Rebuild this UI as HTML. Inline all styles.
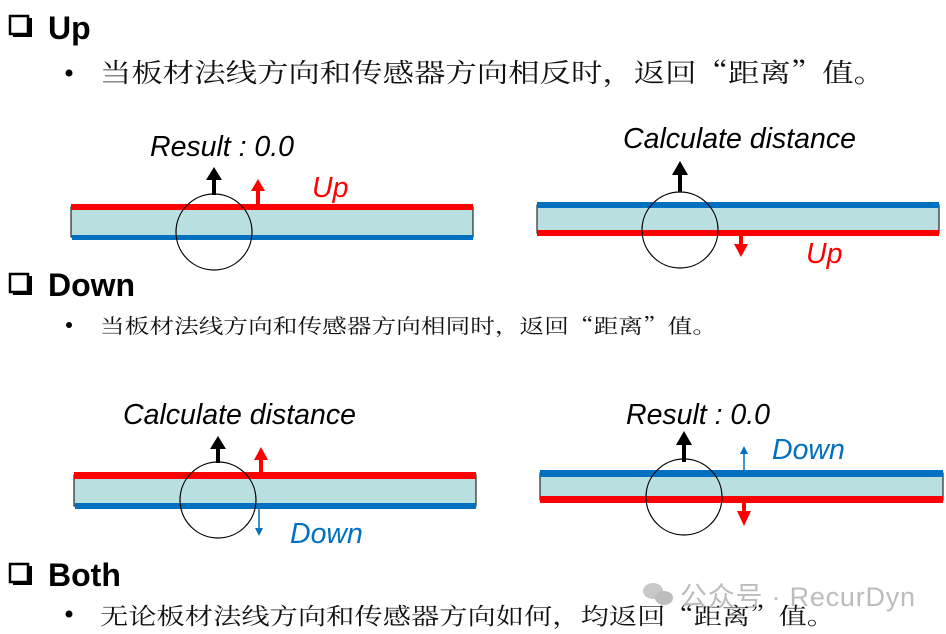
<!DOCTYPE html>
<html><head><meta charset="utf-8"><style>
html,body{margin:0;padding:0;background:#fff;}
svg{display:block}
.h{font-family:"Liberation Sans",sans-serif;font-weight:bold;font-size:32px;fill:#000}
.cn{font-family:"Noto Serif CJK SC","Liberation Serif",serif;fill:#111}
.it{font-family:"Liberation Sans",sans-serif;font-style:italic;font-size:28.5px}
</style></head><body>
<svg width="946" height="634" viewBox="0 0 946 634" xmlns="http://www.w3.org/2000/svg">
<defs>
<g id="cb"><rect x="1" y="1" width="18" height="18" fill="#fff" stroke="#000" stroke-width="2.5"/><path d="M4 20.5 H21.5 V3" fill="none" stroke="#000" stroke-width="3"/></g>
</defs>
<use href="#cb" x="9" y="15"/>
<text class="h" x="48" y="39">Up</text>
<circle cx="69" cy="73" r="3.5" fill="#000"/>
<text class="cn" x="100" y="82" font-size="26" textLength="785" lengthAdjust="spacingAndGlyphs">当板材法线方向和传感器方向相反时，返回“距离”值。</text>

<use href="#cb" x="9" y="273"/>
<text class="h" x="48" y="296">Down</text>
<circle cx="69" cy="325" r="3" fill="#000"/>
<text class="cn" x="100" y="333" font-size="20" textLength="617" lengthAdjust="spacingAndGlyphs">当板材法线方向和传感器方向相同时，返回“距离”值。</text>

<use href="#cb" x="9" y="563"/>
<text class="h" x="48" y="586">Both</text>
<circle cx="69" cy="614" r="3.5" fill="#000"/>
<text class="cn" x="100" y="624" font-size="23" textLength="735" lengthAdjust="spacingAndGlyphs">无论板材法线方向和传感器方向如何，均返回“距离”值。</text>

<!-- diagram 1 -->
<rect x="71" y="207" width="402" height="30" fill="#b9dfe1" stroke="#000" stroke-width="1"/>
<rect x="71" y="204" width="402" height="6" fill="#f00"/>
<rect x="72" y="235" width="401" height="5" fill="#0070c0"/>
<circle cx="214" cy="232" r="38" fill="none" stroke="#000" stroke-width="1.2"/>
<rect x="212" y="178" width="4" height="17" fill="#000"/><polygon points="206,180 222,180 214,167" fill="#000"/>
<rect x="256" y="189" width="4" height="16" fill="#f00"/><polygon points="251,191 265,191 258,179" fill="#f00"/>
<text class="it" x="150" y="156" fill="#000" textLength="144">Result : 0.0</text>
<text class="it" x="312" y="197" fill="#f00">Up</text>

<!-- diagram 2 -->
<rect x="537" y="205" width="402" height="28" fill="#b9dfe1" stroke="#000" stroke-width="1"/>
<rect x="537" y="202" width="402" height="6" fill="#0070c0"/>
<rect x="537" y="230" width="402" height="6" fill="#f00"/>
<circle cx="680" cy="230" r="38" fill="none" stroke="#000" stroke-width="1.2"/>
<rect x="678" y="173" width="4" height="19" fill="#000"/><polygon points="672,175 688,175 680,161" fill="#000"/>
<rect x="739" y="236" width="4" height="10" fill="#f00"/><polygon points="734,244 748,244 741,257" fill="#f00"/>
<text class="it" x="623" y="148" fill="#000" textLength="233">Calculate distance</text>
<text class="it" x="806" y="263" fill="#f00">Up</text>

<!-- diagram 3 -->
<rect x="74" y="475" width="402" height="31" fill="#b9dfe1" stroke="#000" stroke-width="1"/>
<rect x="74" y="472" width="402" height="7" fill="#f00"/>
<rect x="75" y="503" width="401" height="6" fill="#0070c0"/>
<circle cx="218" cy="500" r="38" fill="none" stroke="#000" stroke-width="1.2"/>
<rect x="216" y="447" width="4" height="16" fill="#000"/><polygon points="210,449 226,449 218,436" fill="#000"/>
<rect x="259" y="458" width="4" height="14" fill="#f00"/><polygon points="254,460 268,460 261,447" fill="#f00"/>
<line x1="259" y1="509" x2="259" y2="530" stroke="#0070c0" stroke-width="1.5"/><polygon points="255,528 263,528 259,536" fill="#0070c0"/>
<text class="it" x="123" y="424" fill="#000" textLength="233">Calculate distance</text>
<text class="it" x="290" y="543" fill="#0070c0">Down</text>

<!-- diagram 4 -->
<rect x="540" y="473" width="403" height="27" fill="#b9dfe1" stroke="#000" stroke-width="1"/>
<rect x="540" y="470" width="403" height="7" fill="#0070c0"/>
<rect x="540" y="496" width="403" height="7" fill="#f00"/>
<circle cx="684" cy="497" r="38" fill="none" stroke="#000" stroke-width="1.2"/>
<rect x="682" y="443" width="4" height="19" fill="#000"/><polygon points="676,445 692,445 684,431" fill="#000"/>
<line x1="744" y1="470" x2="744" y2="452" stroke="#0070c0" stroke-width="1.5"/><polygon points="740,454 748,454 744,446" fill="#0070c0"/>
<rect x="742" y="503" width="4" height="10" fill="#f00"/><polygon points="737,511 751,511 744,526" fill="#f00"/>
<text class="it" x="626" y="424" fill="#000" textLength="144">Result : 0.0</text>
<text class="it" x="772" y="459" fill="#0070c0">Down</text>

<!-- watermark -->
<ellipse cx="653" cy="591" rx="10" ry="8" fill="#c8c8c8"/>
<ellipse cx="664" cy="598" rx="9" ry="7" fill="#bdbdbd"/>
<text x="680" y="606" font-family="Liberation Sans,Noto Sans CJK SC,sans-serif" font-size="27" fill="#bcbcbc" textLength="235">公众号 · RecurDyn</text>
</svg>
</body></html>
